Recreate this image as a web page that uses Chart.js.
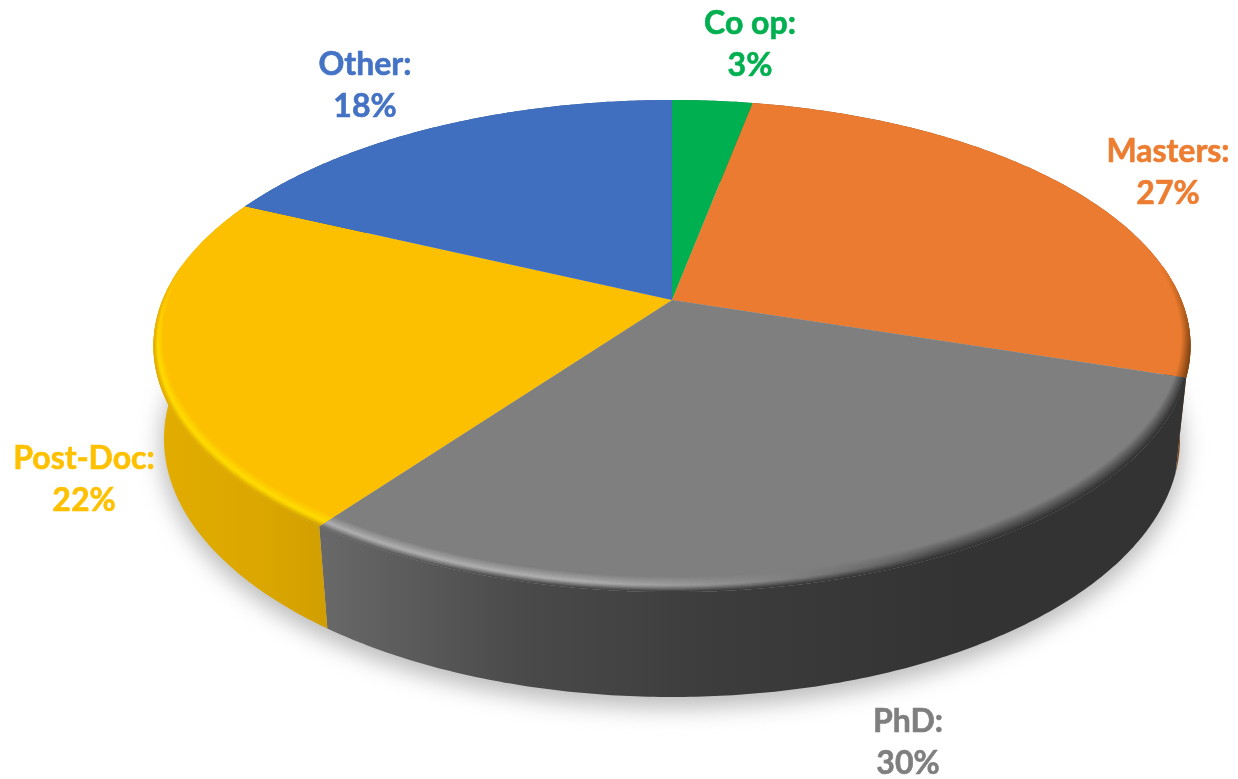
<!DOCTYPE html>
<html>
<head>
<meta charset="utf-8">
<title>Positions</title>
<script src="https://cdn.jsdelivr.net/npm/chart.js@4"></script>
<style>
  html, body { margin: 0; background: #fff; }
  canvas { display: block; }
</style>
</head>
<body>
<canvas id="myChart" width="1238" height="779"></canvas>
<script>
// chart data
var xValues = ["Co op", "Masters", "PhD", "Post-Doc", "Other"];
var yValues = [3, 27, 30, 22, 18];

// slice colours, as hex for the library and rgb for the rim shading
var barColors = ["#00b050", "#ea7b30", "#7f7f7f", "#fcc000", "#416fc0"];
var labelColors = ["#00b050", "#ed7d31", "#7f7f7f", "#ffc000", "#4472c4"];
var topRgb = [[0, 176, 80], [234, 123, 48], [127, 127, 127], [252, 192, 0], [65, 111, 192]];
var rimRgb = [[0, 176, 80], [255, 150, 70], [176, 176, 176], [255, 220, 0], [65, 111, 192]];
// wall colour going left to right: [screen x, rgb]
var wallStops = [
  [[153, [0, 120, 55]], [1190, [0, 120, 55]]],
  [[153, [130, 70, 20]], [1190, [130, 70, 20]]],
  [[325, [104, 104, 104]], [520, [74, 74, 74]], [720, [60, 60, 60]], [960, [51, 51, 51]], [1190, [51, 51, 51]]],
  [[160, [226, 172, 0]], [260, [219, 167, 0]], [330, [208, 158, 0]]],
  [[153, [45, 80, 140]], [1190, [45, 80, 140]]]
];

// label centres, name line then value line
var labelPos = [[750, 24, 66], [1168, 152, 194], [908, 722, 764], [84, 459, 501], [365, 65, 107]];

// camera for the tilted disc
var cam = { x: 672, y: 300, sx: 509.4, sy: 237.4, k: 0.187, depth: 93.3, shrink: 0.02 };

// unit disc point (angle from the top, radius 0..1) at height z (0 top, 1 bottom) to screen
function project(theta, r, z) {
  var u = r * Math.sin(theta), v = -r * Math.cos(theta);
  var w = 1 - cam.k * v + cam.shrink * z;
  return [cam.x + cam.sx * u / w, cam.y + (cam.sy * v + cam.depth * z) / w];
}

function mix(a, b, t) {
  return [a[0] + (b[0] - a[0]) * t, a[1] + (b[1] - a[1]) * t, a[2] + (b[2] - a[2]) * t];
}
function css(c) {
  return "rgb(" + Math.round(c[0]) + "," + Math.round(c[1]) + "," + Math.round(c[2]) + ")";
}
function clamp(t) {
  return Math.max(0, Math.min(1, t));
}
function wallAt(i, x) {
  var s = wallStops[i];
  if (x <= s[0][0]) return s[0][1];
  for (var n = 1; n < s.length; n++) {
    if (x <= s[n][0]) return mix(s[n - 1][1], s[n][1], (x - s[n - 1][0]) / (s[n][0] - s[n - 1][0]));
  }
  return s[s.length - 1][1];
}

// top face of a slice, the library still works out all the angles
Chart.ArcElement.prototype.draw = function (ctx) {
  var a = this.startAngle + Math.PI / 2, b = this.endAngle + Math.PI / 2;
  var steps = Math.max(2, Math.ceil((b - a) / 0.01));
  var i = this.$context.dataIndex;

  ctx.save();
  ctx.fillStyle = this.options.backgroundColor;
  ctx.beginPath();
  var c = project(0, 0, 0);
  ctx.moveTo(c[0], c[1]);
  for (var n = 0; n <= steps; n++) {
    var p = project(a + (b - a) * n / steps, 1, 0);
    ctx.lineTo(p[0], p[1]);
  }
  ctx.closePath();
  ctx.fill();

  // rounded rim, lit from the front left, fading out towards the back
  ctx.save();
  ctx.clip();
  ctx.lineWidth = 2.4;
  var rings = 14;
  for (var t = 0; t <= rings; t++) {
    var f = t / rings;
    for (var m = 0; m < steps; m++) {
      var th0 = a + (b - a) * m / steps, th1 = a + (b - a) * (m + 1) / steps;
      var u = Math.sin(th0), v = -Math.cos(th0);
      var fade = clamp((v + 0.15) / 0.35);
      if (fade <= 0) continue;
      var band = 0.006 + 0.036 * clamp((v + 0.15) / 1.15);
      var p0 = project(th0, 1 - band * (1 - f), 0), p1 = project(th1, 1 - band * (1 - f), 0);
      var wall = wallAt(i, p0[0]);
      var lit = clamp((-0.75 * u + 0.55 * v - 0.15) / 0.5);
      var peak = mix(mix(topRgb[i], wall, 0.6), rimRgb[i], lit);
      var col = f < 0.6 ? mix(topRgb[i], peak, f / 0.6) : mix(peak, wall, (f - 0.6) / 0.4);
      ctx.strokeStyle = css(mix(topRgb[i], col, fade));
      ctx.beginPath();
      ctx.moveTo(p0[0], p0[1]);
      ctx.lineTo(p1[0], p1[1]);
      ctx.stroke();
    }
  }
  ctx.restore();
  ctx.restore();
};

// soft floor shadow and the outer wall, drawn before the top faces
var wallPlugin = {
  id: "wallPlugin",
  beforeDatasetsDraw: function (chart) {
    var ctx = chart.ctx;
    var arcs = chart.getDatasetMeta(0).data;
    var n, p;

    ctx.save();
    ctx.filter = "blur(11px)";
    ctx.fillStyle = "#bdbdbd";
    ctx.beginPath();
    for (n = 0; n <= 180; n++) {
      p = project(n * Math.PI / 90, 1.008, 1.08);
      if (n === 0) ctx.moveTo(p[0], p[1]); else ctx.lineTo(p[0], p[1]);
    }
    ctx.closePath();
    ctx.fill();
    ctx.restore();

    arcs.forEach(function (arc, i) {
      var a = arc.startAngle + Math.PI / 2, b = arc.endAngle + Math.PI / 2;
      var steps = Math.ceil((b - a) / 0.01);
      var stops = wallStops[i];
      var first = stops[0][0], last = stops[stops.length - 1][0];
      var grad = ctx.createLinearGradient(first, 0, last, 0);
      stops.forEach(function (s) {
        grad.addColorStop((s[0] - first) / (last - first), css(s[1]));
      });
      ctx.fillStyle = grad;
      ctx.beginPath();
      for (n = 0; n <= steps; n++) {
        p = project(a + (b - a) * n / steps, 1, 0);
        if (n === 0) ctx.moveTo(p[0], p[1]); else ctx.lineTo(p[0], p[1]);
      }
      for (n = steps; n >= 0; n--) {
        p = project(a + (b - a) * n / steps, 1, 1);
        ctx.lineTo(p[0], p[1]);
      }
      ctx.closePath();
      ctx.fill();
    });
  }
};

// name and percentage beside each slice
var labelPlugin = {
  id: "labelPlugin",
  afterDraw: function (chart) {
    var ctx = chart.ctx;
    ctx.save();
    ctx.font = "bold 32px Lato";
    ctx.textAlign = "center";
    ctx.textBaseline = "middle";
    ctx.lineWidth = 0.6;
    xValues.forEach(function (name, i) {
      ctx.fillStyle = labelColors[i];
      ctx.strokeStyle = labelColors[i];
      ctx.fillText(name + ":", labelPos[i][0], labelPos[i][1]);
      ctx.strokeText(name + ":", labelPos[i][0], labelPos[i][1]);
      ctx.fillText(yValues[i] + "%", labelPos[i][0], labelPos[i][2]);
      ctx.strokeText(yValues[i] + "%", labelPos[i][0], labelPos[i][2]);
    });
    ctx.restore();
  }
};

new Chart("myChart", {
  type: "pie",
  data: {
    labels: xValues,
    datasets: [{
      backgroundColor: barColors,
      borderWidth: 0,
      data: yValues
    }]
  },
  options: {
    responsive: false,
    animation: false,
    events: [],
    plugins: {
      legend: {display: false},
      tooltip: {enabled: false}
    }
  },
  plugins: [wallPlugin, labelPlugin]
});
</script>
</body>
</html>
